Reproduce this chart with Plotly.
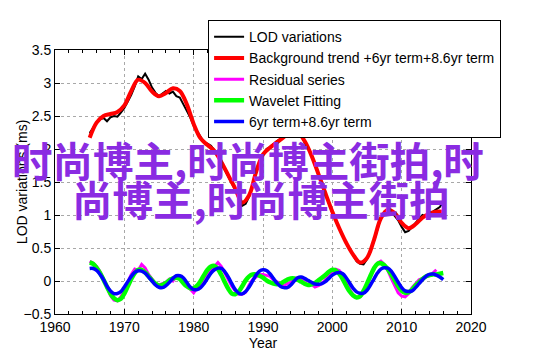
import numpy as np
import plotly.graph_objects as go

# ---------------- data ----------------
years_half = np.arange(1965.0, 2016.01, 0.5)

lod = [2.24, 2.32, 2.40, 2.45, 2.47, 2.42, 2.48, 2.50, 2.49, 2.55,
       2.62, 2.72, 2.82, 2.95, 3.10, 3.06, 3.14, 3.05, 2.93, 2.85,
       2.80, 2.84, 2.88, 2.84, 2.87, 2.80, 2.78, 2.68, 2.58, 2.48,
       2.35, 2.26, 2.18, 2.10, 2.08, 2.05, 1.98, 1.88, 1.78, 1.68,
       1.58, 1.47, 1.38, 1.25, 1.14, 1.17, 1.28, 1.45, 1.65, 1.82,
       1.92, 2.00, 2.03, 2.08, 2.12, 2.15, 2.20, 2.25, 2.28, 2.30,
       2.24, 2.22, 2.10, 2.02, 1.90, 1.75, 1.62, 1.48, 1.33, 1.18,
       1.03, 0.92, 0.80, 0.68, 0.57, 0.48, 0.38, 0.30, 0.26, 0.25,
       0.33, 0.45, 0.60, 0.78, 0.95, 1.05, 1.08, 1.05, 0.98, 0.92,
       0.82, 0.74, 0.76, 0.82, 0.88, 0.95, 1.00, 0.98, 1.03, 1.05,
       1.08, 1.12, 1.20]

years_full = np.arange(1965, 2017, 1)
trend = [2.17, 2.40, 2.50, 2.53, 2.56, 2.66, 2.88, 3.05, 3.00, 2.87,
         2.80, 2.85, 2.92, 2.88, 2.68, 2.38, 2.16, 2.06, 1.97, 1.80,
         1.60, 1.40, 1.19, 1.30, 1.65, 1.92, 2.02, 2.10, 2.18, 2.25,
         2.26, 2.12, 1.90, 1.62, 1.33, 1.05, 0.80, 0.58, 0.40, 0.28,
         0.35, 0.62, 0.95, 1.08, 1.03, 0.88, 0.80, 0.86, 0.96, 1.02,
         1.05, 1.05]

residual = [0.30, 0.27, 0.22, 0.14, 0.03, -0.10, -0.22, -0.29, -0.30, -0.24,
            -0.12, -0.02, 0.10, 0.18, 0.16, 0.25, 0.20, 0.10, 0.02, -0.04,
            -0.06, -0.04, -0.02, 0.03, 0.00, 0.07, 0.04, -0.03, -0.06, -0.12,
            -0.18, -0.10, -0.06, 0.02, 0.09, 0.17, 0.22, 0.28, 0.22, 0.12,
            0.02, -0.08, -0.15, -0.20, -0.20, -0.17, -0.06, 0.02, 0.06, 0.10,
            0.10, 0.08, 0.07, 0.02, -0.01, -0.05, -0.07, -0.04, -0.02, 0.04,
            0.05, 0.04, 0.02, 0.00, -0.05, -0.09, -0.07, -0.04, 0.02, 0.09,
            0.14, 0.18, 0.16, 0.09, -0.02, -0.13, -0.22, -0.25, -0.24, -0.18,
            -0.06, 0.08, 0.19, 0.27, 0.30, 0.25, 0.16, 0.04, -0.08, -0.18,
            -0.23, -0.24, -0.19, -0.10, -0.04, 0.02, 0.04, 0.06, 0.08, 0.12,
            0.17]

wavelet = [0.28, 0.26, 0.20, 0.12, 0.02, -0.09, -0.19, -0.26, -0.29, -0.27,
           -0.19, -0.08, 0.03, 0.12, 0.17, 0.17, 0.13, 0.07, 0.01, -0.04,
           -0.07, -0.06, -0.03, 0.01, 0.04, 0.05, 0.03, -0.03, -0.08, -0.11,
           -0.11, -0.07, 0.00, 0.09, 0.17, 0.22, 0.23, 0.18, 0.09, -0.02,
           -0.12, -0.19, -0.20, -0.16, -0.08, 0.01, 0.07, 0.10, 0.10, 0.08,
           0.05, 0.01, -0.02, -0.04, -0.05, -0.04, -0.01, 0.02, 0.04, 0.04,
           0.02, -0.01, -0.04, -0.06, -0.05, -0.03, 0.01, 0.05, 0.09, 0.14,
           0.17, 0.16, 0.11, 0.03, -0.07, -0.16, -0.22, -0.25, -0.23, -0.15,
           -0.04, 0.08, 0.19, 0.26, 0.27, 0.24, 0.18, 0.10, 0.01, -0.08,
           -0.15, -0.18, -0.17, -0.13, -0.07, -0.02, 0.03, 0.07, 0.09, 0.10,
           0.10, 0.11, 0.12]

six_plus_86 = [0.19, 0.19, 0.16, 0.10, 0.02, -0.08, -0.15, -0.19, -0.19, -0.16,
               -0.09, -0.01, 0.07, 0.13, 0.155, 0.15, 0.12, 0.06, 0.00, -0.06,
               -0.095, -0.10, -0.07, -0.02, 0.04, 0.08, 0.08, 0.05, -0.02, -0.09,
               -0.13, -0.13, -0.10, -0.04, 0.04, 0.12, 0.17, 0.195, 0.19, 0.14,
               0.06, -0.04, -0.13, -0.185, -0.195, -0.16, -0.09, 0.00, 0.09, 0.15,
               0.17, 0.16, 0.11, 0.04, -0.03, -0.08, -0.10, -0.10, -0.06, 0.00,
               0.05, 0.06, 0.04, 0.01, -0.02, -0.045, -0.05, -0.04, -0.01, 0.04,
               0.09, 0.12, 0.13, 0.11, 0.05, -0.03, -0.11, -0.165, -0.185, -0.185,
               -0.14, -0.06, 0.03, 0.12, 0.18, 0.20, 0.195, 0.15, 0.07, -0.02,
               -0.10, -0.15, -0.16, -0.15, -0.10, -0.04, 0.02, 0.07, 0.10, 0.105,
               0.09, 0.06, 0.02]

series_names = ["LOD variations",
                "Background trend +6yr term+8.6yr term",
                "Residual series",
                "Wavelet Fitting",
                "6yr term+8.6yr term"]

x_ticks = [1960, 1970, 1980, 1990, 2000, 2010, 2020]
y_ticks = [-0.5, 0, 0.5, 1, 1.5, 2, 2.5, 3, 3.5]

x_title = "Year"
y_title = "LOD variations (ms)"
watermark_1 = "时尚博主,时尚博主街拍,时"
watermark_2 = "尚博主,时尚博主街拍"

# ---------------- figure ----------------
FONT = "Liberation Sans, Arial, sans-serif"
fig = go.Figure()

fig.add_trace(go.Scatter(x=years_half, y=lod, mode="lines", name=series_names[0],
                         line=dict(color="#000000", width=2)))
fig.add_trace(go.Scatter(x=years_full, y=trend, mode="lines", name=series_names[1],
                         line=dict(color="#ff0000", width=4, shape="spline", smoothing=1)))
fig.add_trace(go.Scatter(x=years_half[:len(residual)], y=residual, mode="lines",
                         name=series_names[2],
                         line=dict(color="#ff00ff", width=3)))
fig.add_trace(go.Scatter(x=years_half, y=wavelet, mode="lines", name=series_names[3],
                         line=dict(color="#00ff00", width=4.5, shape="spline", smoothing=1)))
fig.add_trace(go.Scatter(x=years_half, y=six_plus_86, mode="lines", name=series_names[4],
                         line=dict(color="#0000ff", width=3.5, shape="spline", smoothing=1)))

axis_common = dict(
    showline=True, linecolor="black", linewidth=1, mirror="ticks",
    ticks="inside", ticklen=5, tickcolor="black", tickwidth=1,
    showgrid=True, gridcolor="#a8a8a8", griddash="dot", gridwidth=1,
    zeroline=False, automargin=False,
    tickfont=dict(family=FONT, size=14, color="black"),
)

fig.update_xaxes(range=[1960, 2020], tickvals=x_ticks,
                 title=dict(text=x_title, font=dict(family=FONT, size=14, color="black"),
                            standoff=2),
                 minor=dict(dtick=2, ticks="inside", ticklen=3, tickcolor="black",
                            showgrid=False),
                 **axis_common)
fig.update_yaxes(range=[-0.5, 3.5], tickvals=y_ticks, **axis_common)

# y-axis title placed close to the axis, as in the reference
fig.add_annotation(text=y_title, xref="paper", yref="paper", x=-0.079, y=0.5,
                   xanchor="center", yanchor="middle", textangle=-90, showarrow=False,
                   font=dict(family=FONT, size=14, color="black"))

fig.add_annotation(text=watermark_1, xref="paper", yref="paper", x=0.463, y=0.586,
                   xanchor="center", yanchor="middle", showarrow=False,
                   font=dict(family="Noto Sans CJK SC", size=40.5, color="#8a2be2",
                             weight="bold"))
fig.add_annotation(text=watermark_2, xref="paper", yref="paper", x=0.495, y=0.436,
                   xanchor="center", yanchor="middle", showarrow=False,
                   font=dict(family="Noto Sans CJK SC", size=40.5, color="#8a2be2",
                             weight="bold"))

fig.update_layout(
    width=542, height=356,
    margin=dict(l=47, r=79, t=33, b=50),
    paper_bgcolor="white", plot_bgcolor="white",
    font=dict(family=FONT, size=14, color="black"),
    showlegend=True,
    legend=dict(x=0.368, y=1.113, xanchor="left", yanchor="top",
                bgcolor="white", bordercolor="black", borderwidth=1,
                font=dict(family=FONT, size=14, color="black"),
                tracegroupgap=0, itemwidth=30),
)

fig.write_html("out.html")
